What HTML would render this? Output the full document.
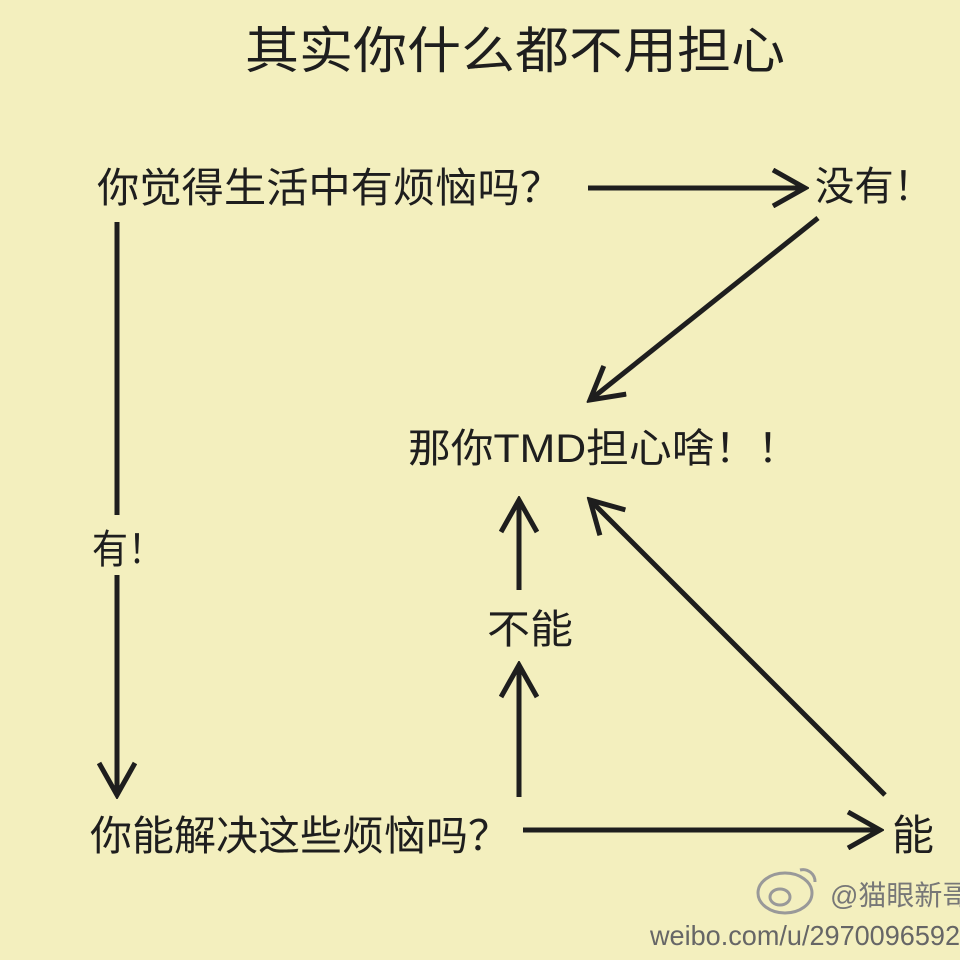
<!DOCTYPE html>
<html><head><meta charset="utf-8"><style>
html,body{margin:0;padding:0;background:#f3efbe;}
svg{display:block}
text{font-family:"Liberation Sans","Noto Sans CJK SC",sans-serif;fill:#1e1e1e}
</style></head><body>
<svg width="960" height="960" viewBox="0 0 960 960" xmlns="http://www.w3.org/2000/svg">
<rect width="960" height="960" fill="#f3efbe"/>
<defs>
<marker id="a" viewBox="0 0 20 20" refX="18" refY="10" markerWidth="20" markerHeight="20" markerUnits="userSpaceOnUse" orient="auto">
<path d="M2,1 L18,10 L2,19" fill="none" stroke="#1e1e1e" stroke-width="3.5"/>
</marker>
<marker id="b" viewBox="0 0 40 40" refX="36" refY="20" markerWidth="40" markerHeight="40" markerUnits="userSpaceOnUse" orient="auto">
<path d="M4,2 L36,20 L4,38" fill="none" stroke="#1e1e1e" stroke-width="5"/>
</marker>
</defs>
<text x="245" y="68" font-size="50" textLength="540" lengthAdjust="spacingAndGlyphs">其实你什么都不用担心</text>
<text x="97" y="202" font-size="41" textLength="465" lengthAdjust="spacingAndGlyphs">你觉得生活中有烦恼吗？</text>
<text x="815" y="200" font-size="40" textLength="118" lengthAdjust="spacingAndGlyphs">没有！</text>
<text x="408" y="462" font-size="40" textLength="392" lengthAdjust="spacingAndGlyphs">那你TMD担心啥！！</text>
<text x="92" y="563" font-size="40" textLength="72" lengthAdjust="spacingAndGlyphs">有！</text>
<text x="487" y="643" font-size="40" textLength="86" lengthAdjust="spacingAndGlyphs">不能</text>
<text x="90" y="850" font-size="41" textLength="420" lengthAdjust="spacingAndGlyphs">你能解决这些烦恼吗？</text>
<text x="892" y="850" font-size="42">能</text>
<g stroke="#1e1e1e" stroke-width="5" fill="none">
<line x1="588" y1="188" x2="805" y2="188" marker-end="url(#b)"/>
<line x1="117" y1="222" x2="117" y2="515"/>
<line x1="117" y1="575" x2="117" y2="795" marker-end="url(#b)"/>
<line x1="818" y1="218" x2="590" y2="400" marker-end="url(#b)"/>
<line x1="519" y1="590" x2="519" y2="500" marker-end="url(#b)"/>
<line x1="519" y1="797" x2="519" y2="665" marker-end="url(#b)"/>
<line x1="885" y1="795" x2="590" y2="500" marker-end="url(#b)"/>
<line x1="523" y1="830" x2="880" y2="830" marker-end="url(#b)"/>
</g>
<g fill="none" stroke="#999" stroke-width="3">
<ellipse cx="785" cy="893" rx="27" ry="20"/>
<ellipse cx="780" cy="897" rx="10" ry="8"/>
<path d="M800,870 a12,12 0 0 1 15,12"/>
</g>
<text x="830" y="905" font-size="28" style="fill:#777">@猫眼新哥</text>
<text x="650" y="945" font-size="28" style="fill:#666" textLength="310" lengthAdjust="spacingAndGlyphs">weibo.com/u/2970096592</text>
</svg>
</body></html>
